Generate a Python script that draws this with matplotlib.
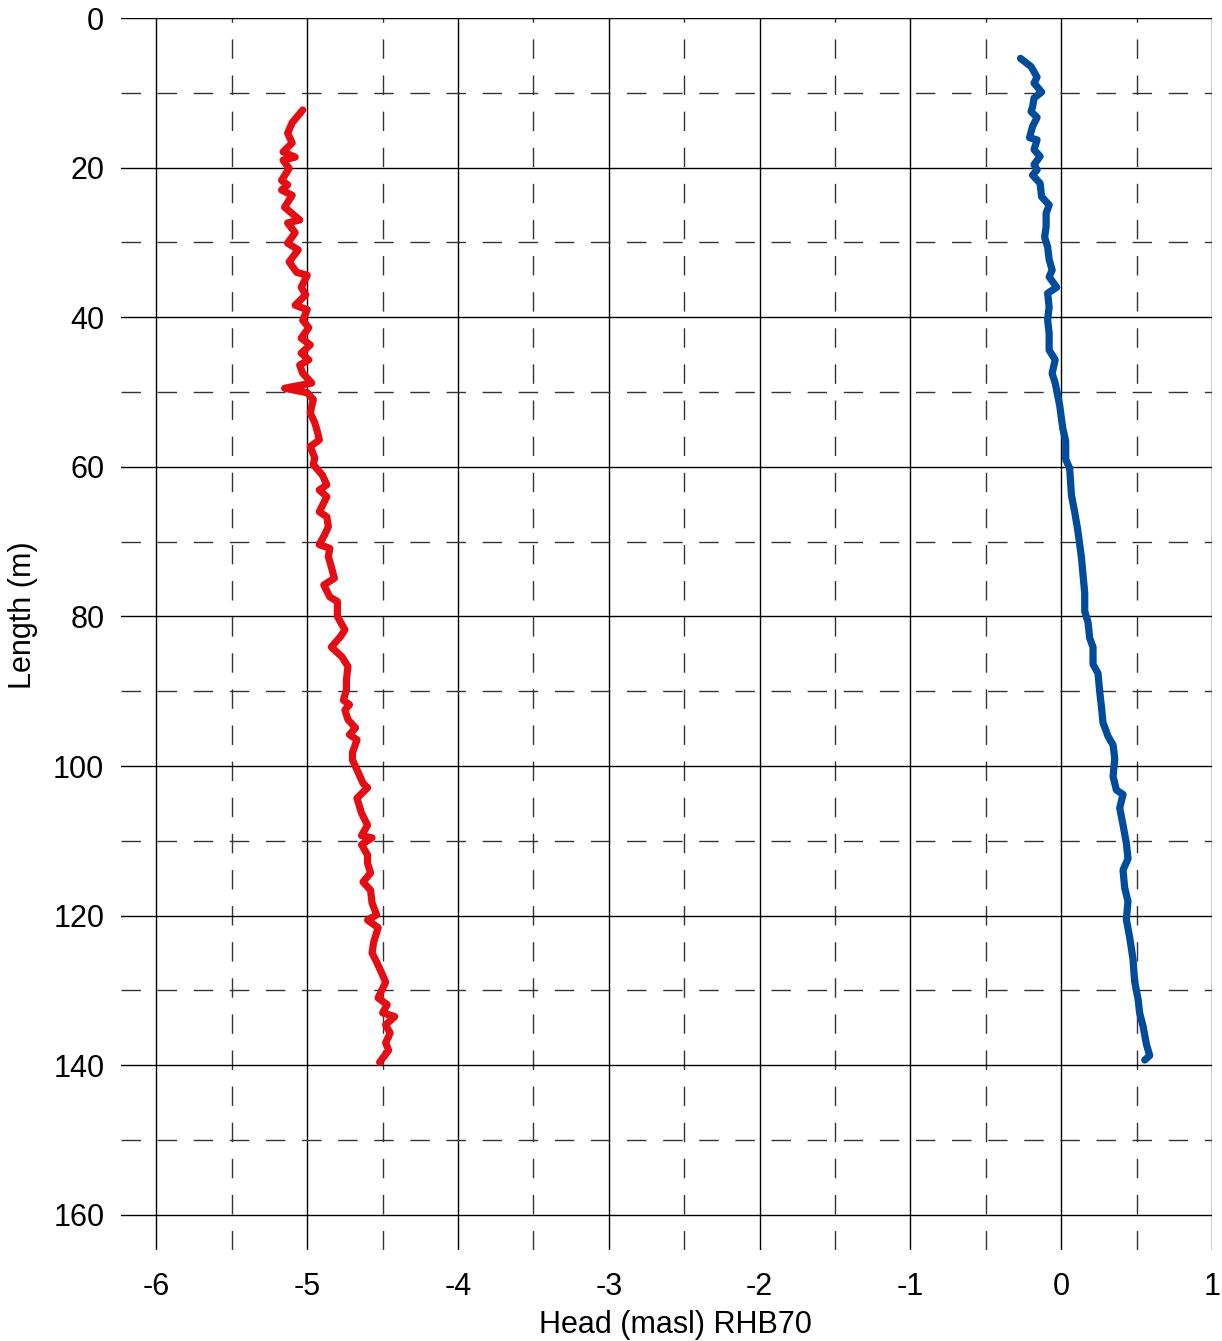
import matplotlib
matplotlib.use('Agg')
import matplotlib.pyplot as plt
from matplotlib.ticker import MultipleLocator

plt.rcParams['font.family'] = ['Liberation Sans', 'DejaVu Sans']
plt.rcParams['axes.unicode_minus'] = False

# red series: head (masl) vs length (m)
red_len = [12.3, 14.0, 15.4, 16.7, 17.9, 18.6, 19.0, 20.1, 21.7, 22.3, 23.0, 23.7, 25.3, 27.0, 27.4,
           28.7, 30.1, 31.0, 32.6, 34.0, 34.4, 36.0, 37.0, 38.4, 39.0, 40.4, 41.4, 42.8, 43.7, 44.8,
           45.7, 46.4, 47.5, 48.8, 49.5, 50.1, 51.0, 52.8, 54.1, 55.5, 56.4, 57.3, 58.8, 59.7, 61.1,
           62.4, 63.1, 64.0, 64.8, 66.0, 66.7, 68.0, 68.9, 70.4, 70.9, 72.0, 73.4, 74.9, 75.8, 77.4,
           78.0, 80.0, 81.8, 82.7, 84.1, 85.4, 86.7, 88.5, 89.8, 91.2, 91.8, 92.5, 93.8, 94.9, 95.8,
           96.5, 98.2, 99.2, 100.5, 102.3, 102.9, 104.3, 106.3, 107.9, 109.3, 109.6, 110.5, 111.9,
           113.0, 114.3, 115.5, 116.6, 118.3, 119.9, 120.6, 121.6, 123.6, 125.0, 126.2, 127.5, 128.9,
           131.0, 131.9, 133.0, 133.5, 134.6, 135.7, 137.0, 138.0, 139.6]
red_head = [-5.03, -5.10, -5.13, -5.10, -5.16, -5.08, -5.16, -5.12, -5.17, -5.13, -5.17, -5.10, -5.15, -5.05, -5.13,
            -5.08, -5.13, -5.06, -5.12, -5.07, -5.00, -5.04, -5.01, -5.08, -5.00, -5.03, -4.99, -5.04, -4.98, -5.04,
            -4.99, -5.05, -5.03, -4.97, -5.15, -5.00, -4.96, -4.98, -4.95, -4.93, -4.92, -4.98, -4.95, -4.96, -4.90,
            -4.87, -4.92, -4.87, -4.89, -4.92, -4.87, -4.86, -4.88, -4.92, -4.85, -4.86, -4.84, -4.82, -4.89, -4.85,
            -4.80, -4.80, -4.75, -4.78, -4.84, -4.77, -4.73, -4.74, -4.74, -4.76, -4.72, -4.75, -4.73, -4.68, -4.72,
            -4.67, -4.70, -4.70, -4.67, -4.63, -4.60, -4.67, -4.64, -4.60, -4.64, -4.57, -4.64, -4.60,
            -4.60, -4.58, -4.63, -4.58, -4.57, -4.54, -4.60, -4.53, -4.56, -4.57, -4.54, -4.51, -4.48,
            -4.53, -4.47, -4.50, -4.42, -4.48, -4.45, -4.48, -4.46, -4.52]

# blue series
blue_len = [5.4, 6.5, 7.9, 8.7, 9.9, 10.7, 11.9, 12.5, 13.3, 14.5, 16.0, 16.3, 17.6, 18.5, 19.6, 20.3,
            21.0, 22.1, 23.9, 25.0, 26.1, 27.9, 29.3, 30.6, 32.3, 33.7, 34.6, 36.0, 36.8, 38.6, 40.4,
            42.1, 44.4, 45.7, 47.5, 48.8, 51.8, 54.8, 56.6, 59.0, 60.2, 63.8, 66.1, 68.5, 72.1, 74.5,
            76.9, 79.3, 80.8, 82.9, 84.1, 86.4, 87.6, 90.0, 92.1, 94.2, 96.0, 97.2, 99.0, 101.4, 103.2,
            103.8, 105.6, 107.9, 110.3, 112.4, 113.9, 116.3, 118.1, 120.5, 122.9, 125.8, 128.8, 131.2,
            133.0, 134.8, 137.2, 138.7, 139.3]
blue_head = [-0.27, -0.20, -0.16, -0.18, -0.13, -0.18, -0.19, -0.20, -0.16, -0.19, -0.21, -0.16, -0.18, -0.14, -0.18, -0.16,
             -0.19, -0.14, -0.13, -0.08, -0.10, -0.10, -0.11, -0.09, -0.08, -0.06, -0.08, -0.03, -0.09, -0.08, -0.09,
             -0.08, -0.08, -0.04, -0.06, -0.04, -0.01, 0.01, 0.03, 0.03, 0.056, 0.068, 0.09, 0.11, 0.134, 0.145,
             0.156, 0.156, 0.178, 0.189, 0.211, 0.211, 0.244, 0.255, 0.267, 0.277, 0.31, 0.344, 0.355, 0.344, 0.366,
             0.41, 0.388, 0.41, 0.432, 0.443, 0.41, 0.421, 0.443, 0.432, 0.454, 0.476, 0.487, 0.51,
             0.52, 0.543, 0.565, 0.587, 0.554]

fig = plt.figure(figsize=(12.22, 13.41), dpi=100)
ax = fig.add_axes([121 / 1222, 1 - 1250 / 1341, (1212 - 121) / 1222, (1250 - 18) / 1341])

ax.plot(red_head, red_len, color='#e30d13', lw=5.2, solid_capstyle='round', solid_joinstyle='round', zorder=3)
ax.plot(blue_head, blue_len, color='#004c9c', lw=5.2, solid_capstyle='round', solid_joinstyle='round', zorder=3)

ax.set_xlim(-6.235, 1.0)
ax.set_ylim(164.7, 0)
ax.xaxis.set_major_locator(MultipleLocator(1))
ax.xaxis.set_minor_locator(MultipleLocator(0.5))
ax.yaxis.set_major_locator(MultipleLocator(20))
ax.yaxis.set_minor_locator(MultipleLocator(10))

ax.grid(which='major', color='black', lw=1.0, ls='-')
ax.grid(which='minor', color='#333333', lw=1.0, dashes=(14, 12))
for s in ax.spines.values():
    s.set_visible(False)
ax.tick_params(which='both', length=0)
ax.tick_params(axis='x', which='major', pad=16, labelsize=22)
ax.tick_params(axis='y', which='major', pad=12, labelsize=22)

ax.set_xlabel('Head (masl) RHB70', fontsize=22)
ax.set_ylabel('Length (m)', fontsize=22)
ax.xaxis.set_label_coords(0.508, -0.049)
ax.yaxis.set_label_coords(-0.076, 0.515)

fig.savefig('out.png', dpi=100)
